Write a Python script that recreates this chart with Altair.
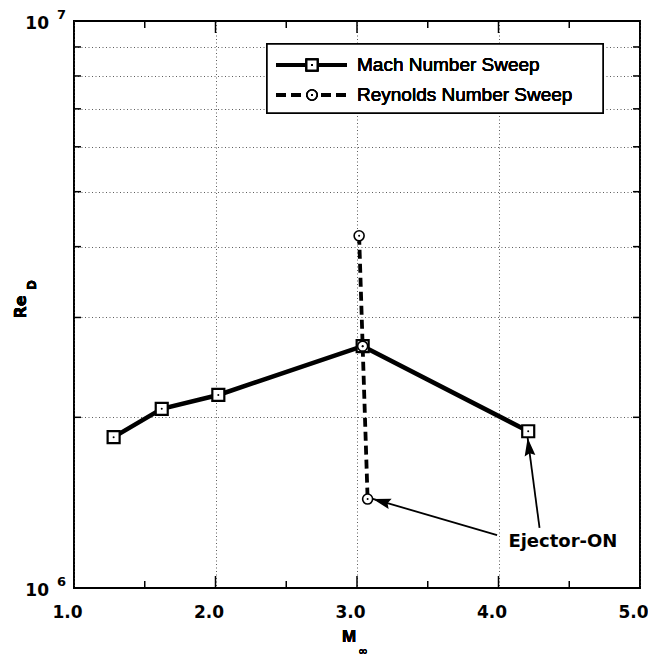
import math
import altair as alt
import pandas as pd

# ---------------- data ----------------
mach_M = [1.28, 1.62, 2.02, 3.04, 4.21]
mach_Re = [1.845e6, 2.07e6, 2.19e6, 2.67e6, 1.89e6]

rey_M = [3.015, 3.04, 3.075]
rey_Re = [4.18e6, 2.67e6, 1.435e6]

x_label_vals = [1.0, 2.0, 3.0, 4.0, 5.0]
x_major_ticks = [2.0, 3.0, 4.0]
x_minor_ticks = [1.5, 2.5, 3.5, 4.5]
y_minor_ticks = [2e6, 3e6, 4e6, 5e6, 6e6, 7e6, 8e6, 9e6]
decade_vals = [1e6, 1e7]
decade_base = ["10", "10"]
decade_exps = ["6", "7"]
legend_labels = ["Mach Number Sweep", "Reynolds Number Sweep"]

annot_text = ["Ejector-ON"]
annot_M = [4.07]
annot_Re = [1.205e6]
arrow_from_M = [3.99, 4.29]
arrow_from_Re = [1.24e6, 1.276e6]
arrow_to_M = [3.112, 4.206]
arrow_to_Re = [1.436e6, 1.839e6]

# ---------------- layout ----------------
W, H = 566, 567
BOLD = "DejaVu Sans"

xs = alt.Scale(domain=[1, 5], nice=False, zero=False)
ys = alt.Scale(type="log", domain=[1e6, 1e7], nice=False)

xaxis = alt.Axis(values=x_label_vals, format=".1f", grid=True, gridDash=[1, 2.5],
                 gridColor="#333333", gridWidth=0.8, ticks=False, tickSize=0,
                 domain=False, labelFont=BOLD, labelFontWeight="bold",
                 labelFontSize=17, labelColor="black", labelPadding=16,
                 labelOffset=-7, labelFlush=False, labelOverlap=False, title=None)
yaxis = alt.Axis(values=y_minor_ticks, grid=True, gridDash=[1, 2.5],
                 gridColor="#333333", gridWidth=0.8, ticks=False, tickSize=0,
                 domain=False, labels=False, title=None)


def X(f):
    return alt.X(f, type="quantitative", scale=xs, axis=xaxis)


def Y(f):
    return alt.Y(f, type="quantitative", scale=ys, axis=yaxis)


def px(m):
    return (m - 1) / 4 * W


def py(r):
    return H - (math.log10(r) - 6) * H


mach_df = pd.DataFrame({"M": mach_M, "Re": mach_Re, "i": list(range(len(mach_M)))})
rey_df = pd.DataFrame({"M": rey_M, "Re": rey_Re, "i": list(range(len(rey_M)))})

mach_line = alt.Chart(mach_df).mark_line(color="black", strokeWidth=4.5).encode(
    x=X("M"), y=Y("Re"), order="i:Q")
rey_line = alt.Chart(rey_df).mark_line(color="black", strokeWidth=3.8, strokeDash=[9, 5]).encode(
    x=X("M"), y=Y("Re"), order="i:Q")

mach_pts = alt.Chart(mach_df).mark_point(shape="square", size=144, filled=True, fill="white",
                                         stroke="black", strokeWidth=2.2, opacity=1).encode(
    x=X("M"), y=Y("Re"))
rey_pts = alt.Chart(rey_df).mark_point(shape="circle", size=100, filled=True, fill="white",
                                       stroke="black", strokeWidth=1.6, opacity=1).encode(
    x=X("M"), y=Y("Re"))
mach_dots = alt.Chart(mach_df).mark_point(shape="circle", size=4, filled=True, color="black",
                                          opacity=1).encode(x=X("M"), y=Y("Re"))
rey_dots = alt.Chart(rey_df).mark_point(shape="circle", size=4, filled=True, color="black",
                                        opacity=1).encode(x=X("M"), y=Y("Re"))

# ---------------- inward ticks ----------------
xmaj = pd.DataFrame({"t": x_major_ticks})
xmin = pd.DataFrame({"t": x_minor_ticks})
ymin = pd.DataFrame({"t": y_minor_ticks})
tick_layers = [
    alt.Chart(xmaj).mark_rule(color="black", strokeWidth=1.5).encode(x=X("t"), y=alt.value(H), y2=alt.value(H - 12)),
    alt.Chart(xmaj).mark_rule(color="black", strokeWidth=1.5).encode(x=X("t"), y=alt.value(0), y2=alt.value(12)),
    alt.Chart(xmin).mark_rule(color="black", strokeWidth=1.5).encode(x=X("t"), y=alt.value(H), y2=alt.value(H - 7)),
    alt.Chart(xmin).mark_rule(color="black", strokeWidth=1.5).encode(x=X("t"), y=alt.value(0), y2=alt.value(7)),
    alt.Chart(ymin).mark_rule(color="black", strokeWidth=1.5).encode(y=Y("t"), x=alt.value(0), x2=alt.value(7)),
    alt.Chart(ymin).mark_rule(color="black", strokeWidth=1.5).encode(y=Y("t"), x=alt.value(W), x2=alt.value(W - 7)),
]

# ---------------- decade labels ----------------
dec_df = pd.DataFrame({"v": decade_vals, "b": decade_base, "e": decade_exps})
dec_base = alt.Chart(dec_df).mark_text(align="right", baseline="middle", font=BOLD, fontWeight="bold",
                                       fontSize=17, dy=3, color="black").encode(
    y=Y("v"), x=alt.value(-25), text="b:N")
dec_exp = alt.Chart(dec_df).mark_text(align="left", baseline="middle", font=BOLD, fontWeight="bold",
                                      fontSize=13, dy=-6, color="black").encode(
    y=Y("v"), x=alt.value(-17), text="e:N")

# ---------------- annotation ----------------
angles = []
for fm, fr, tm, tr in zip(arrow_from_M, arrow_from_Re, arrow_to_M, arrow_to_Re):
    dx = px(tm) - px(fm)
    dy = py(tr) - py(fr)
    angles.append(math.degrees(math.atan2(dx, -dy)) % 360)
arr_df = pd.DataFrame({"fm": arrow_from_M, "fr": arrow_from_Re, "tm": arrow_to_M, "tr": arrow_to_Re,
                       "ang": angles})
arrow_lines = alt.Chart(arr_df).mark_rule(color="black", strokeWidth=1.8).encode(
    x=X("fm"), y=Y("fr"), x2=alt.X2("tm"), y2=alt.Y2("tr"))
arrow_heads = alt.Chart(arr_df).mark_point(shape="M0,0L-0.3,1L0,0.85L0.3,1Z", filled=True,
                                           color="black", size=1296, opacity=1).encode(
    x=X("tm"), y=Y("tr"), angle=alt.Angle("ang:Q", scale=None))
ann_df = pd.DataFrame({"M": annot_M, "Re": annot_Re, "t": annot_text})
ann_text = alt.Chart(ann_df).mark_text(align="left", baseline="middle", font=BOLD, fontWeight="bold",
                                       fontSize=18, color="black").encode(
    x=X("M"), y=Y("Re"), text="t:N")

# ---------------- legend (drawn) ----------------
leg_box = alt.Chart(mach_df).mark_rect(fill="white", stroke="black", strokeWidth=1.5).encode(
    x=alt.value(193), x2=alt.value(529), y=alt.value(23), y2=alt.value(92))
leg_l1 = alt.Chart(mach_df).mark_rule(color="black", strokeWidth=4).encode(
    x=alt.value(202), x2=alt.value(273), y=alt.value(44))
leg_l2 = alt.Chart(mach_df).mark_rule(color="black", strokeWidth=3.8, strokeDash=[10, 5]).encode(
    x=alt.value(202), x2=alt.value(275), y=alt.value(74))
leg_m1 = alt.Chart(mach_df).mark_point(shape="square", size=121, filled=True, fill="white",
                                       stroke="black", strokeWidth=2, opacity=1).encode(
    x=alt.value(238), y=alt.value(44))
leg_m2 = alt.Chart(mach_df).mark_point(shape="circle", size=100, filled=True, fill="white",
                                       stroke="black", strokeWidth=1.6, opacity=1).encode(
    x=alt.value(238), y=alt.value(74))
leg_d1 = alt.Chart(mach_df).mark_point(shape="circle", size=4, filled=True, color="black", opacity=1).encode(
    x=alt.value(238), y=alt.value(44))
leg_d2 = alt.Chart(mach_df).mark_point(shape="circle", size=4, filled=True, color="black", opacity=1).encode(
    x=alt.value(238), y=alt.value(74))
leg_t1 = alt.Chart(mach_df).mark_text(align="left", baseline="middle", font="Liberation Sans",
                                      fontSize=19, color="black").encode(
    x=alt.value(283), y=alt.value(44), text=alt.value(legend_labels[0]))
leg_t2 = alt.Chart(mach_df).mark_text(align="left", baseline="middle", font="Liberation Sans",
                                      fontSize=19, color="black").encode(
    x=alt.value(283), y=alt.value(74), text=alt.value(legend_labels[1]))

# ---------------- axis titles (with sub-scripts) ----------------
t_re = alt.Chart(mach_df).mark_text(align="center", baseline="middle", font=BOLD, fontWeight="bold",
                                    fontSize=16, angle=270, color="black").encode(
    x=alt.value(-53), y=alt.value(286), text=alt.value("Re"))
t_d = alt.Chart(mach_df).mark_text(align="center", baseline="middle", font=BOLD, fontWeight="bold",
                                   fontSize=12, angle=270, color="black").encode(
    x=alt.value(-42), y=alt.value(264), text=alt.value("D"))
t_m = alt.Chart(mach_df).mark_text(align="center", baseline="middle", font="Liberation Sans",
                                   fontWeight="bold", fontSize=17, color="black").encode(
    x=alt.value(275), y=alt.value(616), text=alt.value("M"))
t_inf = alt.Chart(mach_df).mark_text(align="center", baseline="middle", font="DejaVu Sans",
                                     fontSize=12, color="black").encode(
    x=alt.value(289), y=alt.value(630), text=alt.value("∞"))

chart = alt.layer(
    *tick_layers,
    rey_line, mach_line,
    arrow_lines, arrow_heads,
    mach_pts, rey_pts, mach_dots, rey_dots,
    leg_box, leg_l1, leg_l2, leg_m1, leg_m2, leg_d1, leg_d2, leg_t1, leg_t2,
    dec_base, dec_exp, ann_text,
    t_re, t_d, t_m, t_inf,
).properties(
    width=W, height=H,
    padding={"left": 74, "top": 21, "right": 8, "bottom": 71},
    autosize=alt.AutoSizeParams(type="none"),
    background="white",
).configure_view(stroke="black", strokeWidth=2)

chart.save("out.html", embed_options={"renderer": "svg", "actions": False})
